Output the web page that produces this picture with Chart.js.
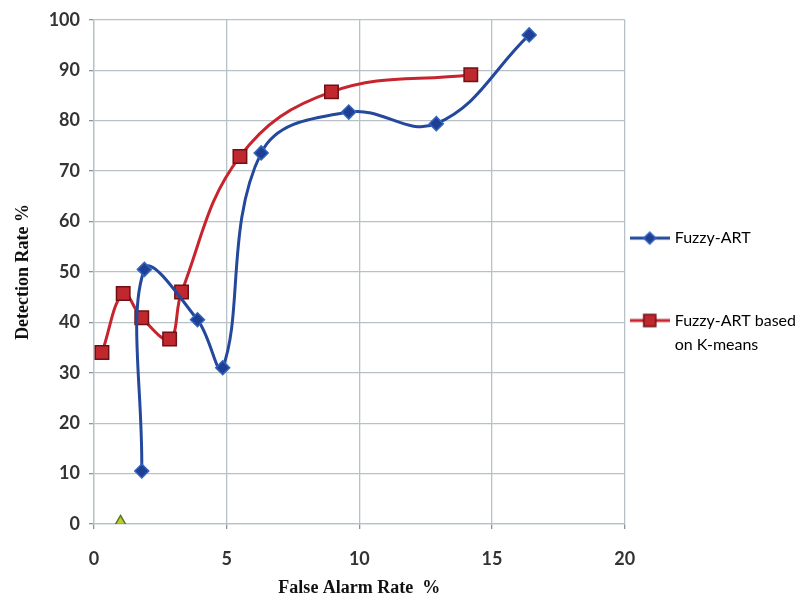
<!DOCTYPE html>
<html>
<head>
<meta charset="utf-8">
<script src="https://cdn.jsdelivr.net/npm/chart.js@4.4.1/dist/chart.umd.min.js"></script>
<style>
  html, body { margin: 0; padding: 0; background: #fff; }
  #wrap { width: 806px; height: 600px; }
</style>
</head>
<body>
<div id="wrap"><canvas id="rocChart"></canvas></div>
<script>
// Values: false alarm rate % (x) vs detection rate % (y)
const fuzzyArtFar = [1.8, 1.9, 3.9, 4.85, 6.3, 9.6, 12.9, 16.4];
const fuzzyArtDr  = [10.5, 50.5, 40.5, 31, 73.6, 81.7, 79.4, 97];
const kmeansFar   = [0.3, 1.1, 1.8, 2.85, 3.3, 5.5, 8.95, 14.2];
const kmeansDr    = [34, 45.7, 40.9, 36.7, 46, 72.9, 85.7, 89.1];
const extraFar    = [1.0];
const extraDr     = [0.5];
const seriesNames = ['Fuzzy-ART', 'Fuzzy-ART based on K-means'];
const xTicks = [0, 5, 10, 15, 20];
const yTicks = [0, 10, 20, 30, 40, 50, 60, 70, 80, 90, 100];

const toPoints = (xs, ys) => xs.map((x, i) => ({ x: x, y: ys[i] }));

const colors = {
    blueLine: '#24489c',
    blueFill: '#203f94',
    blueEdge: '#2f66c0',
    redLine: '#c8242e',
    redFill: '#c0282d',
    redEdge: '#6e1016',
    grid: '#b7c1c6',
    tick: '#333333',
    title: '#111111'
};

// little "line with marker" swatch like the spreadsheet legend
function legendMarker(line, fill, edge, shape) {
    const c = document.createElement('canvas');
    c.width = 40; c.height = 16;
    const g = c.getContext('2d');
    g.strokeStyle = line; g.lineWidth = 3;
    g.beginPath(); g.moveTo(0, 8); g.lineTo(40, 8); g.stroke();
    g.fillStyle = fill; g.strokeStyle = edge; g.lineWidth = 1.5;
    g.beginPath();
    if (shape === 'diamond') {
        g.moveTo(20, 2); g.lineTo(26, 8); g.lineTo(20, 14); g.lineTo(14, 8); g.closePath();
    } else {
        g.rect(14, 2, 12, 12);
    }
    g.fill(); g.stroke();
    return c;
}

const ctx = document.getElementById('rocChart').getContext('2d');

new Chart(ctx, {
    type: 'scatter',
    data: {
        datasets: [{
            label: seriesNames[0],
            data: toPoints(fuzzyArtFar, fuzzyArtDr),
            showLine: true,
            borderColor: colors.blueLine,
            borderWidth: 3,
            tension: 0.4,
            pointStyle: 'rectRot',
            pointRadius: 7,
            pointBackgroundColor: colors.blueFill,
            pointBorderColor: colors.blueEdge,
            pointBorderWidth: 1.5
        }, {
            label: seriesNames[1],
            data: toPoints(kmeansFar, kmeansDr),
            showLine: true,
            borderColor: colors.redLine,
            borderWidth: 3,
            tension: 0.4,
            pointStyle: 'rect',
            pointRadius: 9.5,
            pointBackgroundColor: colors.redFill,
            pointBorderColor: colors.redEdge,
            pointBorderWidth: 1.5
        }, {
            label: 'extra',
            data: toPoints(extraFar, extraDr),
            showLine: false,
            pointStyle: 'triangle',
            pointRadius: 6,
            pointBackgroundColor: '#c9c62a',
            pointBorderColor: '#4f7a2a',
            pointBorderWidth: 1.5
        }]
    },
    options: {
        responsive: true,
        maintainAspectRatio: false,
        animation: false,
        layout: { padding: { top: 17, left: 0, right: 0, bottom: 0 } },
        plugins: {
            tooltip: { enabled: false },
            legend: {
                position: 'right',
                maxWidth: 182,
                labels: {
                    usePointStyle: true,
                    pointStyleWidth: 34,
                    padding: 8,
                    color: '#333333',
                    font: { family: 'Lato', size: 16, lineHeight: 1.55 },
                    generateLabels: () => [{
                        text: [seriesNames[0], '', ''],
                        pointStyle: legendMarker(colors.blueLine, colors.blueFill, colors.blueEdge, 'diamond'),
                        fillStyle: colors.blueFill,
                        strokeStyle: colors.blueLine,
                        lineWidth: 0,
                        hidden: false,
                        datasetIndex: 0
                    }, {
                        text: ['Fuzzy-ART based', 'on K-means', ''],
                        pointStyle: legendMarker(colors.redLine, colors.redFill, colors.redEdge, 'square'),
                        fillStyle: colors.redFill,
                        strokeStyle: colors.redLine,
                        lineWidth: 0,
                        hidden: false,
                        datasetIndex: 1
                    }]
                }
            }
        },
        scales: {
            x: {
                type: 'linear',
                min: xTicks[0],
                max: xTicks[xTicks.length - 1],
                afterFit: s => { s.height = 76; },
                afterBuildTicks: s => { s.ticks = xTicks.map(v => ({ value: v })); },
                grid: { color: colors.grid, lineWidth: 1.3, tickLength: 5, tickColor: '#8a969c' },
                border: { color: colors.grid, width: 1.3 },
                ticks: { color: colors.tick, padding: 19, font: { family: 'Lato', size: 18, weight: 'bold' } },
                title: {
                    display: true,
                    text: 'False Alarm Rate  %',
                    color: colors.title,
                    padding: { top: 4, bottom: 1 },
                    font: { family: 'Liberation Serif', size: 18, weight: 'bold' }
                }
            },
            y: {
                type: 'linear',
                min: yTicks[0],
                max: yTicks[yTicks.length - 1],
                afterFit: s => { s.width = 94; },
                afterBuildTicks: s => { s.ticks = yTicks.map(v => ({ value: v })); },
                grid: { color: colors.grid, lineWidth: 1.3, tickLength: 5, tickColor: '#8a969c' },
                border: { color: colors.grid, width: 1.3 },
                ticks: { color: colors.tick, padding: 9, font: { family: 'Lato', size: 18, weight: 'bold' } },
                title: {
                    display: true,
                    text: 'Detection Rate %',
                    color: colors.title,
                    padding: { top: 13, bottom: 4 },
                    font: { family: 'Liberation Serif', size: 18, weight: 'bold' }
                }
            }
        }
    }
});
</script>
</body>
</html>
